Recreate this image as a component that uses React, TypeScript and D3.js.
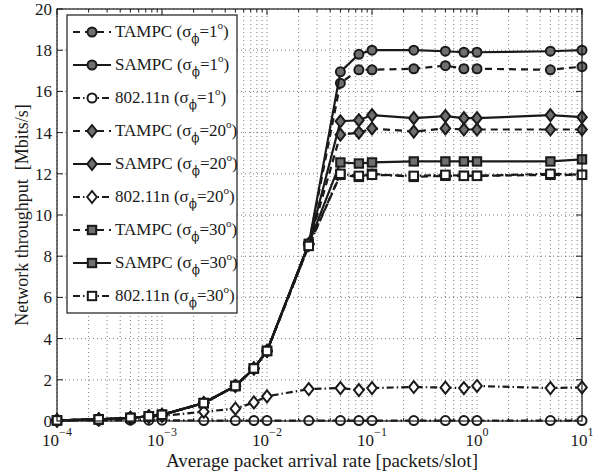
import React from "react";
import * as d3 from "d3";

// packet arrival rate [packets/slot]
const rates = [1e-4, 2.5e-4, 5e-4, 7.5e-4, 1e-3, 2.5e-3, 5e-3, 7.5e-3, 1e-2, 2.5e-2, 5e-2, 7.5e-2, 0.1, 0.25, 0.5, 0.75, 1, 5, 10];

// network throughput [Mbits/s]
const tampc1 = [0.03, 0.08, 0.15, 0.23, 0.3, 0.87, 1.7, 2.55, 3.4, 8.6, 16.4, 17.05, 17.05, 17.1, 17.25, 17.1, 17.1, 17.05, 17.2];
const sampc1 = [0.03, 0.08, 0.15, 0.23, 0.3, 0.87, 1.7, 2.55, 3.4, 8.6, 16.95, 17.8, 18.0, 18.0, 17.95, 17.9, 17.9, 17.95, 18.0];
const wifi1 = [0.02, 0.03, 0.04, 0.04, 0.04, 0.02, 0.02, 0.02, 0.02, 0.02, 0.02, 0.02, 0.02, 0.02, 0.02, 0.02, 0.02, 0.02, 0.02];
const tampc20 = [0.03, 0.08, 0.15, 0.23, 0.3, 0.87, 1.7, 2.55, 3.4, 8.55, 13.9, 14.0, 14.2, 14.05, 14.2, 14.15, 14.15, 14.15, 14.15];
const sampc20 = [0.03, 0.08, 0.15, 0.23, 0.3, 0.87, 1.7, 2.55, 3.4, 8.6, 14.55, 14.6, 14.85, 14.7, 14.8, 14.7, 14.7, 14.85, 14.75];
const wifi20 = [0.03, 0.08, 0.14, 0.2, 0.25, 0.45, 0.6, 0.9, 1.2, 1.55, 1.6, 1.5, 1.6, 1.65, 1.62, 1.6, 1.7, 1.6, 1.63];
const tampc30 = [0.03, 0.08, 0.15, 0.23, 0.3, 0.87, 1.7, 2.55, 3.4, 8.5, 11.95, 11.85, 12.0, 11.85, 11.9, 11.9, 11.9, 11.95, 11.95];
const sampc30 = [0.03, 0.08, 0.15, 0.23, 0.3, 0.87, 1.7, 2.55, 3.4, 8.6, 12.55, 12.5, 12.55, 12.6, 12.6, 12.6, 12.6, 12.6, 12.7];
const wifi30 = [0.03, 0.08, 0.15, 0.23, 0.3, 0.87, 1.7, 2.55, 3.4, 8.5, 12.0, 11.9, 11.95, 11.9, 11.95, 11.9, 11.9, 12.0, 11.95];

const yTicks = [0, 2, 4, 6, 8, 10, 12, 14, 16, 18, 20];
const xDecades = [-4, -3, -2, -1, 0, 1];

const series = [
  { name: "TAMPC", sigma: "1", values: tampc1, kind: "tampc", marker: "circle" },
  { name: "SAMPC", sigma: "1", values: sampc1, kind: "sampc", marker: "circle" },
  { name: "802.11n", sigma: "1", values: wifi1, kind: "wifi", marker: "circle" },
  { name: "TAMPC", sigma: "20", values: tampc20, kind: "tampc", marker: "diamond" },
  { name: "SAMPC", sigma: "20", values: sampc20, kind: "sampc", marker: "diamond" },
  { name: "802.11n", sigma: "20", values: wifi20, kind: "wifi", marker: "diamond" },
  { name: "TAMPC", sigma: "30", values: tampc30, kind: "tampc", marker: "square" },
  { name: "SAMPC", sigma: "30", values: sampc30, kind: "sampc", marker: "square" },
  { name: "802.11n", sigma: "30", values: wifi30, kind: "wifi", marker: "square" },
];

const W = 607;
const H = 472;
const M = { left: 57, right: 25, top: 9, bottom: 51 };
const INK = "#1a1a1a";
const FONT = "'Liberation Serif', 'Times New Roman', serif";

const dashFor = (kind: string) => (kind === "tampc" ? "7,5" : kind === "wifi" ? "7,3,1.5,3" : null);

function Marker({ type, x, y, kind }: { type: string; x: number; y: number; kind: string }) {
  const fill = kind === "wifi" ? "#fff" : "#6f6f6f";
  const common = { fill, stroke: INK, strokeWidth: 2 };
  if (type === "circle") return <circle cx={x} cy={y} r={4.5} {...common} />;
  if (type === "diamond")
    return <path d={`M${x},${y - 6}L${x + 4.8},${y}L${x},${y + 6}L${x - 4.8},${y}Z`} {...common} />;
  return <rect x={x - 4.2} y={y - 4.2} width={8.4} height={8.4} {...common} />;
}

export default function App() {
  const x = d3.scaleLog().domain([1e-4, 10]).range([M.left, W - M.right]);
  const y = d3.scaleLinear().domain([0, 20]).range([H - M.bottom, M.top]);
  const line = d3
    .line<number>()
    .x((_, i) => x(rates[i]))
    .y((d) => y(d));

  const [x0, x1] = x.range();
  const [y0, y1] = y.range();

  // minor log ticks 2..9 per decade
  const minor: number[] = [];
  for (let e = -4; e < 1; e++) for (let k = 2; k <= 9; k++) minor.push(k * Math.pow(10, e));
  const majors = xDecades.map((e) => Math.pow(10, e));

  // legend layout
  const lgX = 67;
  const lgY = 15;
  const lgW = 170;
  const lgRow = 33;

  return (
    <svg width={W} height={H} style={{ position: "absolute", left: 0, top: 0, background: "#fff" }} fontFamily={FONT}>
      {/* grid */}
      <g stroke="#444" strokeWidth={0.7} strokeDasharray="1,3">
        {[...majors, ...minor].map((v, i) => (
          <line key={"gx" + i} x1={x(v)} x2={x(v)} y1={y0} y2={y1} />
        ))}
        {yTicks.map((v) => (
          <line key={"gy" + v} x1={x0} x2={x1} y1={y(v)} y2={y(v)} />
        ))}
      </g>

      {/* ticks */}
      <g stroke={INK} strokeWidth={1}>
        {majors.map((v, i) => (
          <g key={"tx" + i}>
            <line x1={x(v)} x2={x(v)} y1={y0} y2={y0 - 6} />
            <line x1={x(v)} x2={x(v)} y1={y1} y2={y1 + 6} />
          </g>
        ))}
        {minor.map((v, i) => (
          <g key={"mx" + i}>
            <line x1={x(v)} x2={x(v)} y1={y0} y2={y0 - 3} />
            <line x1={x(v)} x2={x(v)} y1={y1} y2={y1 + 3} />
          </g>
        ))}
        {yTicks.map((v) => (
          <g key={"ty" + v}>
            <line x1={x0} x2={x0 + 6} y1={y(v)} y2={y(v)} />
            <line x1={x1} x2={x1 - 6} y1={y(v)} y2={y(v)} />
          </g>
        ))}
      </g>

      {/* data */}
      {series.map((s, si) => {
        const dash = dashFor(s.kind);
        return (
          <g key={"s" + si}>
            <path d={line(s.values) || ""} fill="none" stroke={INK} strokeWidth={2.2} strokeDasharray={dash || undefined} />
            {s.values.map((v, i) => (
              <Marker key={i} type={s.marker} x={x(rates[i])} y={y(v)} kind={s.kind} />
            ))}
          </g>
        );
      })}

      {/* axes box */}
      <rect x={x0} y={y1} width={x1 - x0} height={y0 - y1} fill="none" stroke={INK} strokeWidth={1.2} />

      {/* tick labels */}
      <g fontSize={17} fill={INK}>
        {yTicks.map((v) => (
          <text key={"ly" + v} x={x0 - 5} y={y(v) + 6} textAnchor="end">
            {v}
          </text>
        ))}
        {xDecades.map((e) => (
          <text key={"lx" + e} x={x(Math.pow(10, e))} y={y0 + 25} textAnchor="middle">
            10
            <tspan fontSize={12} dy={-10}>
              {e < 0 ? "\u2212" + Math.abs(e) : String(e)}
            </tspan>
          </text>
        ))}
      </g>

      {/* axis titles */}
      <text x={322} y={467} textAnchor="middle" fontSize={19} fill={INK}>
        Average packet arrival rate [packets/slot]
      </text>
      <text
        transform={`translate(28,${(y0 + y1) / 2}) rotate(-90)`}
        textAnchor="middle"
        fontSize={18}
        fill={INK}
        style={{ whiteSpace: "pre" }}
      >
        {"Network throughput  [Mbits/s]"}
      </text>

      {/* legend */}
      <rect x={lgX} y={lgY} width={lgW} height={lgRow * 9 + 1} fill="#fff" stroke={INK} strokeWidth={1.2} />
      {series.map((s, i) => {
        const cy = lgY + 17 + i * lgRow;
        const dash = dashFor(s.kind);
        return (
          <g key={"lg" + i}>
            <line x1={lgX + 6} x2={lgX + 44} y1={cy} y2={cy} stroke={INK} strokeWidth={2.2} strokeDasharray={dash || undefined} />
            <Marker type={s.marker} x={lgX + 25} y={cy} kind={s.kind} />
            <text x={lgX + 48} y={cy + 5} fontSize={17} fill={INK}>
              {s.name} (σ
              <tspan fontSize={12} dy={6} fontFamily="'DejaVu Serif', serif">
                {"\u03D5"}
              </tspan>
              <tspan dy={-6}>={s.sigma}</tspan>
              <tspan fontSize={11} dy={-8}>
                o
              </tspan>
              <tspan dy={8}>)</tspan>
            </text>
          </g>
        );
      })}
    </svg>
  );
}
